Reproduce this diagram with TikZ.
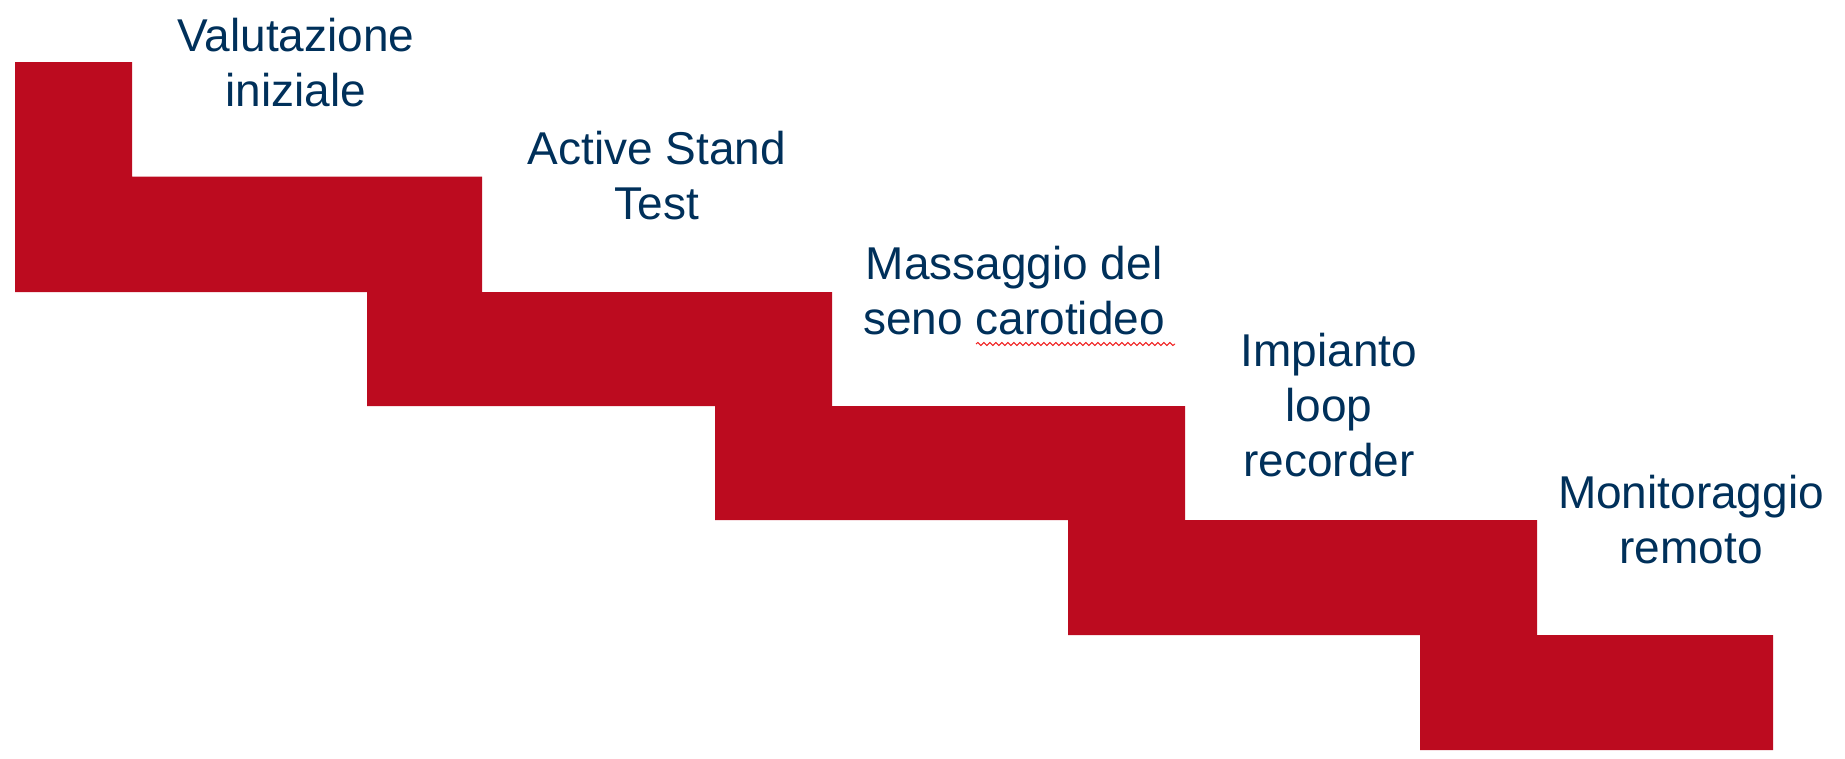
\documentclass[tikz,border=0pt]{standalone}
\usepackage{fontspec}
\setmainfont{Liberation Sans}
\usetikzlibrary{decorations.pathmorphing}
\definecolor{stairred}{HTML}{BC0B1F}
\definecolor{navytext}{HTML}{00305A}
\definecolor{squiggle}{HTML}{F02020}
\tikzset{
  steplabel/.style={anchor=base, align=center, inner sep=0pt, text=navytext,
    font=\fontsize{46}{55}\selectfont},
  stairfill/.style={fill=stairred, draw=none}
}
\begin{document}
\begin{tikzpicture}[x=1pt,y=-1pt]
\useasboundingbox (0,0) rectangle (1845,758);
% staircase
\path[stairfill] (15,62) -- (132,62) -- (132,176.5) -- (482,176.5) -- (482,292)
  -- (832,292) -- (832,406) -- (1185,406) -- (1185,520) -- (1537,520)
  -- (1537,635) -- (1773,635) -- (1773,750) -- (1420,750) -- (1420,635)
  -- (1068,635) -- (1068,520) -- (715,520) -- (715,406) -- (367,406)
  -- (367,292) -- (15,292) -- cycle;
% labels (anchor = baseline of the last line)
\node[steplabel] (l1) at (296,106) {Valutazione\\iniziale};
\node[steplabel] (l2) at (657,219) {Active Stand\\Test};
\node[steplabel] (l3) at (1014,334) {Massaggio del\\seno carotideo};
\node[steplabel] (l4) at (1329,476) {Impianto\\loop\\recorder};
\node[steplabel] (l5) at (1691,563) {Monitoraggio\\remoto};
% spell-check squiggle under "carotideo"
\coordinate (sqa) at (976,344);
\coordinate (sqb) at (1175,344);
\draw[squiggle, line width=1pt, decorate, decoration={snake, segment length=6pt, amplitude=1.5pt}] (sqa) -- (sqb);
\end{tikzpicture}
\end{document}
